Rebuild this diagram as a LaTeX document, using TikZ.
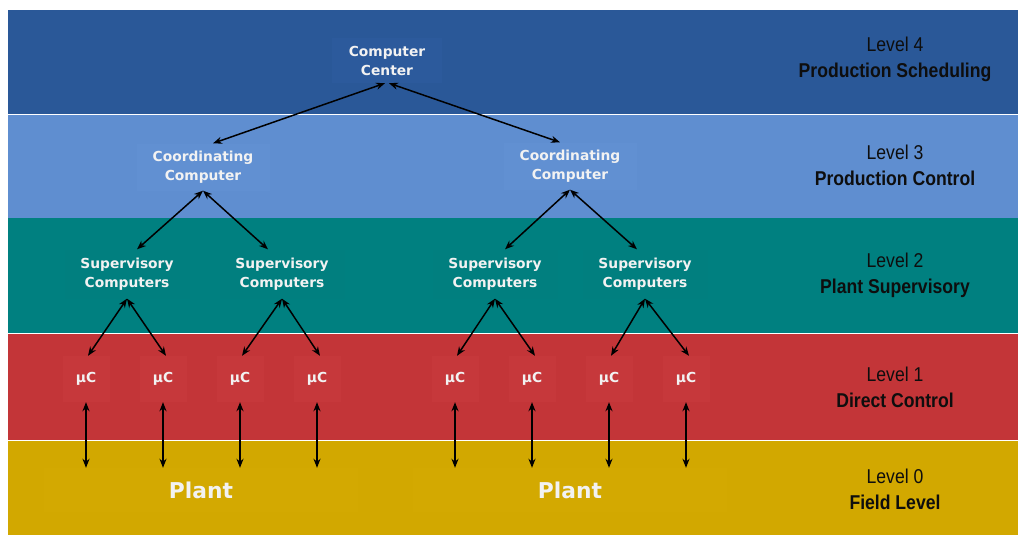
\documentclass[tikz,border=0pt]{standalone}
\usepackage{fontspec}
\usetikzlibrary{arrows.meta}
\newfontfamily\nodefont{DejaVu Sans}
\newfontfamily\lvlfont[FakeStretch=0.88]{Liberation Sans}
\definecolor{bandA}{HTML}{2A5898}
\definecolor{boxA}{HTML}{2C5A9C}
\definecolor{bandB}{HTML}{5F8ED0}
\definecolor{boxB}{HTML}{6190D2}
\definecolor{bandC}{HTML}{008080}
\definecolor{boxC}{HTML}{017F7F}
\definecolor{bandD}{HTML}{C33538}
\definecolor{boxD}{HTML}{C6383B}
\definecolor{bandE}{HTML}{D2A800}
\definecolor{boxE}{HTML}{D3A901}
\definecolor{lvltext}{HTML}{0E0E0E}
\definecolor{nodetext}{HTML}{F2F2F2}
\tikzset{
  unitbox/.style={inner sep=0pt, align=center, text=nodetext,
    font=\nodefont\bfseries\fontsize{13.8}{19}\selectfont},
  mubox/.style={unitbox, minimum width=47pt, minimum height=46pt, fill=boxD},
  supbox/.style={unitbox, minimum width=125pt, minimum height=49pt, fill=boxC},
  coordbox/.style={unitbox, minimum width=133pt, minimum height=47pt, fill=boxB},
  plantbox/.style={unitbox, minimum width=314pt, minimum height=44pt, fill=boxE,
    font=\nodefont\bfseries\fontsize{21.8}{26}\selectfont},
  lvllabel/.style={inner sep=0pt, align=center, text=lvltext,
    font=\lvlfont\fontsize{20}{26}\selectfont},
  link/.style={draw=black, line width=1.5pt, {Stealth[length=9pt,width=7pt]}-{Stealth[length=9pt,width=7pt]}}
}
\begin{document}
\begin{tikzpicture}[x=1pt,y=-1pt]
\useasboundingbox (0,0) rectangle (1018,535);
\fill[white] (0,0) rectangle (1018,535);
% bands
\fill[bandA] (8,10) rectangle (1018,113.5);
\fill[bandB] (8,114.7) rectangle (1018,218);
\fill[bandC] (8,218) rectangle (1018,332.5);
\fill[bandD] (8,333.8) rectangle (1018,439.5);
\fill[bandE] (8,440.8) rectangle (1018,535);
% level labels
\node[lvllabel] (l4) at (895,59) {Level 4\\\bfseries Production Scheduling};
\node[lvllabel] (l3) at (895,165) {Level 3\\\bfseries Production Control};
\node[lvllabel] (l2) at (895,275) {Level 2\\\bfseries Plant Supervisory};
\node[lvllabel] (l1) at (895,387) {Level 1\\\bfseries Direct Control};
\node[lvllabel] (l0) at (895,489) {Level 0\\\bfseries Field Level};
% nodes
\node[unitbox, minimum width=110pt, minimum height=45pt, fill=boxA] (cc) at (387,60.5) {Computer\\Center};
\node[coordbox] (cl) at (203,167) {Coordinating\\Computer};
\node[coordbox] (cr) at (570,166) {Coordinating\\Computer};
\node[supbox] (s1) at (127,274) {Supervisory\\Computers};
\node[supbox] (s2) at (282,274) {Supervisory\\Computers};
\node[supbox] (s3) at (495,274) {Supervisory\\Computers};
\node[supbox] (s4) at (645,274) {Supervisory\\Computers};
\node[mubox] (m1) at (86,379) {μC};
\node[mubox] (m2) at (163,379) {μC};
\node[mubox] (m3) at (240,379) {μC};
\node[mubox] (m4) at (317,379) {μC};
\node[mubox] (m5) at (455,379) {μC};
\node[mubox] (m6) at (532,379) {μC};
\node[mubox] (m7) at (609,379) {μC};
\node[mubox] (m8) at (686,379) {μC};
\node[plantbox] (p1) at (201,490) {Plant};
\node[plantbox] (p2) at (570,490) {Plant};
% connectors
\draw[link] ([xshift=-2pt]cc.south) -- ([xshift=10pt]cl.north);
\draw[link] ([xshift=2pt]cc.south) -- ([xshift=-10pt]cr.north);
\draw[link] (cl.south) -- ([xshift=10pt]s1.north);
\draw[link] (cl.south) -- ([xshift=-14pt]s2.north);
\draw[link] (cr.south) -- ([xshift=10pt]s3.north);
\draw[link] (cr.south) -- ([xshift=-8pt]s4.north);
\draw[link] (s1.south) -- ([xshift=2pt]m1.north);
\draw[link] (s1.south) -- ([xshift=3pt]m2.north);
\draw[link] (s2.south) -- ([xshift=2pt]m3.north);
\draw[link] (s2.south) -- ([xshift=3pt]m4.north);
\draw[link] (s3.south) -- ([xshift=2pt]m5.north);
\draw[link] (s3.south) -- ([xshift=3pt]m6.north);
\draw[link] (s4.south) -- ([xshift=2pt]m7.north);
\draw[link] (s4.south) -- ([xshift=3pt]m8.north);
\foreach \m/\p in {m1/p1,m2/p1,m3/p1,m4/p1,m5/p2,m6/p2,m7/p2,m8/p2}{
  \draw[link] (\m.south) -- (\m.south |- \p.north);
}
\end{tikzpicture}
\end{document}
